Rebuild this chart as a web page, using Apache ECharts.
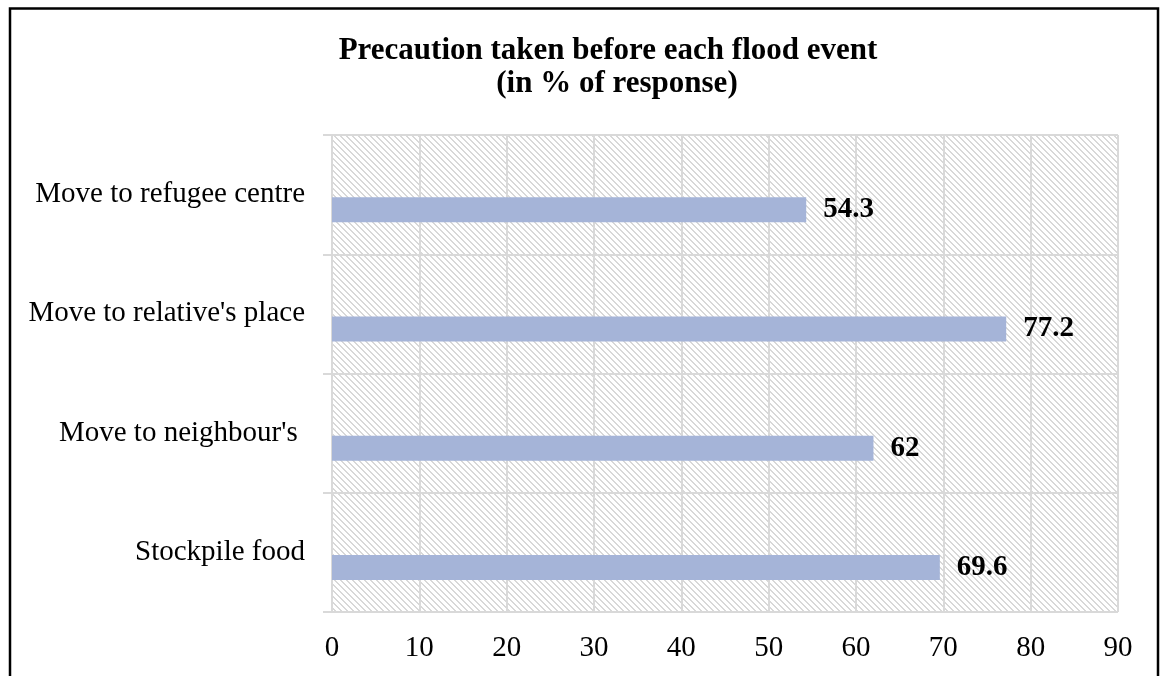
<!DOCTYPE html>
<html>
<head>
<meta charset="utf-8">
<title>Precaution taken before each flood event</title>
<script src="https://cdn.jsdelivr.net/npm/echarts@6/dist/echarts.min.js"></script>
<style>
  html, body { margin: 0; padding: 0; background: #fff; }
  #chart { width: 1161px; height: 676px; }
</style>
</head>
<body>
<div id="chart"></div>
<script>
// Categories listed bottom to top, as the y axis draws them
const categories = ['Stockpile food', "Move to neighbour's ", "Move to relative's place", 'Move to refugee centre'];
const precautionShare = [69.6, 62, 77.2, 54.3];
const xTicks = [0, 10, 20, 30, 40, 50, 60, 70, 80, 90];

const serif = "'Times New Roman', 'Liberation Serif', serif";
const gridGray = '#d9d9d9';

// Diagonal hatch fill for the plot background
function hatchTile() {
  const size = 6;
  const c = document.createElement('canvas');
  c.width = size; c.height = size;
  const ctx = c.getContext('2d');
  ctx.fillStyle = '#ffffff';
  ctx.fillRect(0, 0, size, size);
  ctx.fillStyle = '#d8d8d8';
  for (let y = 0; y < size; y++) {
    for (let x = 0; x < size; x++) {
      const d = ((x - y) % size + size) % size;
      if (d === 0 || d === 1) ctx.fillRect(x, y, 1, 1);
    }
  }
  return c;
}

const chart = echarts.init(document.getElementById('chart'), null, { renderer: 'canvas' });

chart.setOption({
  animation: false,
  backgroundColor: '#ffffff',
  title: [
    {
      text: 'Precaution taken before each flood event',
      left: 603, top: 29, textAlign: 'center',
      textStyle: { fontFamily: serif, fontSize: 31, fontWeight: 'bold', color: '#000', lineHeight: 33 }
    },
    {
      text: '(in % of response)',
      left: 612, top: 62, textAlign: 'center',
      textStyle: { fontFamily: serif, fontSize: 31, fontWeight: 'bold', color: '#000', lineHeight: 33 }
    }
  ],
  graphic: [{
    type: 'rect',
    silent: true,
    shape: { x: 10, y: 8.5, width: 1148, height: 720 },
    style: { fill: null, stroke: '#000', lineWidth: 2.5 }
  }],
  grid: {
    left: 332, top: 135, right: 43, bottom: 64,
    show: true,
    borderWidth: 0,
    backgroundColor: { image: hatchTile(), repeat: 'repeat' }
  },
  xAxis: {
    type: 'value',
    min: 0, max: 90, interval: 10,
    axisLine: { show: false },
    axisTick: { show: false },
    splitLine: { show: true, lineStyle: { color: gridGray, width: 2 } },
    axisLabel: {
      margin: 22,
      color: '#000', fontFamily: serif, fontSize: 29,
      formatter: (v) => (xTicks.indexOf(v) >= 0 ? String(v) : '')
    }
  },
  yAxis: {
    type: 'category',
    data: categories,
    axisLine: { show: false },
    axisTick: { show: true, length: 9, lineStyle: { color: gridGray, width: 2 } },
    splitLine: { show: true, lineStyle: { color: gridGray, width: 2 } },
    axisLabel: {
      margin: 27,
      padding: [4, 0, 0, 0],
      color: '#000', fontFamily: serif, fontSize: 29
    }
  },
  series: [
    {
      // empty companion series: keeps the visible bar in the lower slot of each band
      name: 'spacer',
      type: 'bar',
      barWidth: 25,
      barGap: '20%',
      data: []
    },
    {
      name: 'Precaution',
      type: 'bar',
      barWidth: 25,
      barGap: '20%',
      data: precautionShare,
      itemStyle: { color: '#a5b4d8' },
      label: {
        show: true,
        position: 'right',
        distance: 17,
        color: '#000',
        fontFamily: serif,
        fontSize: 29,
        fontWeight: 'bold'
      }
    }
  ]
});
</script>
</body>
</html>
